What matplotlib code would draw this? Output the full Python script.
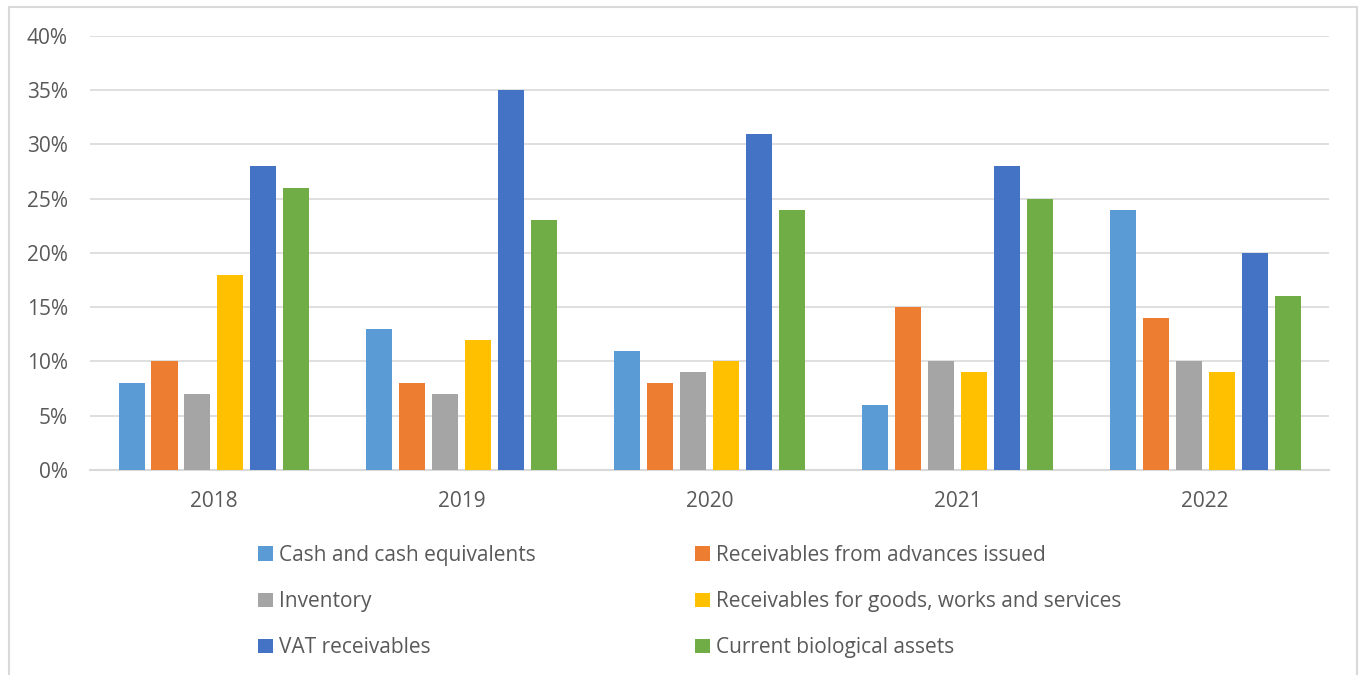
import numpy as np
import matplotlib.pyplot as plt
from matplotlib.patches import Rectangle
from matplotlib.ticker import MultipleLocator, FuncFormatter

plt.rcParams['font.family'] = ['Open Sans', 'DejaVu Sans']

years = ['2018', '2019', '2020', '2021', '2022']
series_names = ['Cash and cash equivalents',
                'Receivables from advances issued',
                'Inventory',
                'Receivables for goods, works and services',
                'VAT receivables',
                'Current biological assets']
cash = [8, 13, 11, 6, 24]
advances = [10, 8, 8, 15, 14]
inventory = [7, 7, 9, 10, 10]
goods = [18, 12, 10, 9, 9]
vat = [28, 35, 31, 28, 20]
biological = [26, 23, 24, 25, 16]
colors = ['#5B9BD5', '#ED7D31', '#A5A5A5', '#FFC000', '#4472C4', '#70AD47']

fig = plt.figure(figsize=(13.62, 6.75), dpi=100)
ax = fig.add_axes([0.0661, 0.3037, 0.9097, 0.643])

# frame around the chart
fig.patches.append(Rectangle((9 / 1362, -0.01), 1348 / 1362, 1 - 7 / 675 + 0.01,
                             transform=fig.transFigure, fill=False,
                             edgecolor='#D9D9D9', linewidth=1.5))

x = np.arange(len(years))
step = 0.133
width = 0.105
handles = []
for i, vals in enumerate([cash, advances, inventory, goods, vat, biological]):
    b = ax.bar(x + (i - 2.5) * step, vals, width, color=colors[i],
               label=series_names[i], zorder=3)
    handles.append(b)

ax.set_xlim(-0.5, 4.5)
ax.set_ylim(0, 40)
ax.yaxis.set_major_locator(MultipleLocator(5))
ax.yaxis.set_major_formatter(FuncFormatter(lambda v, p: f'{v:.0f}%'))
ax.set_xticks(x)
ax.set_xticklabels(years)
ax.grid(axis='y', color='#D9D9D9', linewidth=1.2, zorder=0)
for s in ['top', 'right', 'left']:
    ax.spines[s].set_visible(False)
ax.spines['bottom'].set_color('#D9D9D9')
ax.spines['bottom'].set_linewidth(1.5)
ax.tick_params(axis='both', length=0, labelsize=15, colors='#595959')
ax.tick_params(axis='x', pad=15)
ax.tick_params(axis='y', pad=16)

order = [0, 2, 4, 1, 3, 5]
leg = fig.legend([handles[k] for k in order], [series_names[k] for k in order],
                 ncol=2, loc='upper left', bbox_to_anchor=(258 / 1362, 1 - 545 / 675),
                 frameon=False, fontsize=15, handlelength=0.7, handleheight=0.7,
                 handletextpad=0.3, columnspacing=7.65, labelspacing=1.21,
                 borderaxespad=0, borderpad=0)
for t in leg.get_texts():
    t.set_color('#595959')

fig.savefig('out.png', dpi=100)
